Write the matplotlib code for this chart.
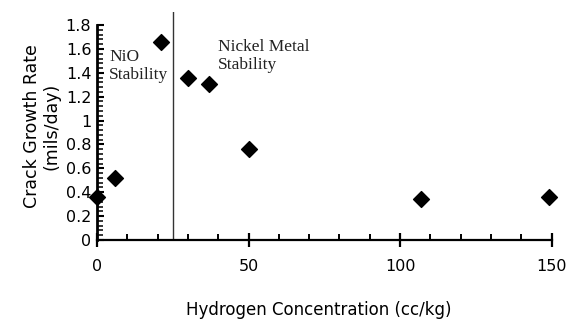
import matplotlib.pyplot as plt
import numpy as np

# data
h2 = [0, 6, 21, 30, 37, 50, 107, 149]
rate = [0.36, 0.52, 1.66, 1.36, 1.31, 0.76, 0.34, 0.36]
boundary = 25
xticks = [0, 50, 100, 150]
yticks = [0, 0.2, 0.4, 0.6, 0.8, 1, 1.2, 1.4, 1.6, 1.8]
ytick_labels = ['0', '0.2', '0.4', '0.6', '0.8', '1', '1.2', '1.4', '1.6', '1.8']

fig = plt.figure(figsize=(5.7, 3.23), dpi=100)
ax = fig.add_axes([0.170, 0.257, 0.798, 0.706])

ax.scatter(h2, rate, marker='D', s=65, color='black', zorder=3, clip_on=False)
ax.axvline(boundary, color='#333333', lw=1.0, ymin=0, ymax=1)

ax.set_xlim(0, 150)
ax.set_ylim(0, 1.91)

for s in ['top', 'right']:
    ax.spines[s].set_visible(False)
ax.spines['left'].set_bounds(0, 1.8)
ax.spines['left'].set_linewidth(2.0)
ax.spines['bottom'].set_linewidth(1.6)

ax.set_xticks(xticks)
ax.set_xticks(np.arange(0, 151, 10), minor=True)
ax.set_yticks(yticks)
ax.set_yticklabels(ytick_labels)
ax.set_yticks(np.arange(0, 1.81, 0.04), minor=True)

ax.tick_params(axis='x', which='major', direction='inout', length=10, width=1.6,
               labelsize=11.5, pad=9)
ax.tick_params(axis='x', which='minor', direction='in', length=4, width=1.4)
ax.tick_params(axis='y', which='major', direction='in', length=5, width=1.5,
               labelsize=11.5, pad=4)
ax.tick_params(axis='y', which='minor', direction='in', length=4, width=1.1)

ax.text(4, 1.46, 'NiO\nStability', family='Liberation Serif', fontsize=12.5,
        va='center', ha='left', color='#222222', linespacing=1.15)
ax.text(40, 1.54, 'Nickel Metal\nStability', family='Liberation Serif', fontsize=12.5,
        va='center', ha='left', color='#222222', linespacing=1.15)

ax.set_ylabel('Crack Growth Rate\n(mils/day)', fontsize=12.5, linespacing=1.05, labelpad=4)
fig.text(0.56, 0.025, 'Hydrogen Concentration (cc/kg)', fontsize=12, ha='center')

fig.savefig('out.png', dpi=100)
